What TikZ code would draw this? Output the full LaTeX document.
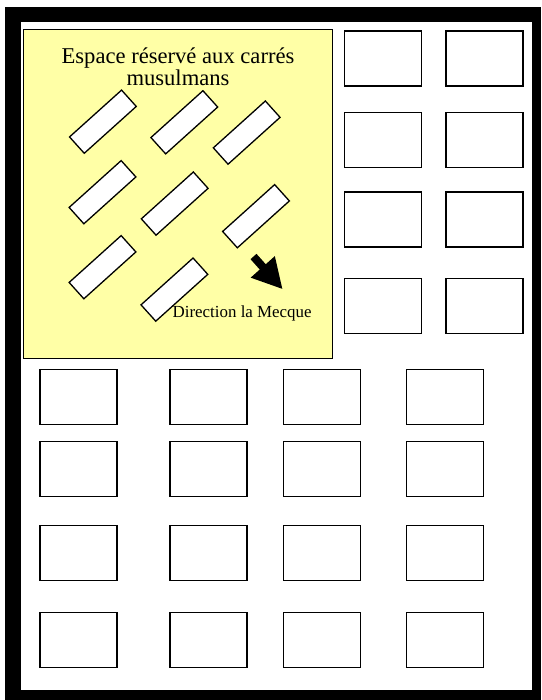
\documentclass[tikz,border=0pt]{standalone}
\usepackage{fontspec}
\setmainfont{Liberation Serif}
\usetikzlibrary{arrows.meta}
\definecolor{jaune}{RGB}{255,255,166}

\begin{document}
\begin{tikzpicture}[x=1pt, y=-1pt,
  every node/.style={inner sep=0pt},
  tombe/.style={rectangle, draw, fill=white, line width=1.3pt, minimum width=77pt, minimum height=55pt},
  tombemus/.style={rectangle, draw, fill=white, line width=1.3pt, minimum width=70pt, minimum height=22pt, rotate=42}]
\useasboundingbox (0,0) rectangle (541,700);
% mur d'enceinte
\fill[black] (5,7) rectangle (541,700);
\fill[white] (21,22) rectangle (532,690);
% espace reserve
\draw[fill=jaune, line width=1pt] (23.5,29.5) rectangle (332.5,358.5);
\node[font=\fontsize{22.6}{22.5}\selectfont, align=center, anchor=north] (titre) at (178,47.5)
  {Espace réservé aux carrés\\musulmans};
\node[tombemus] (m1) at (102.9,121.7) {};
\node[tombemus] (m2) at (184.3,122.3) {};
\node[tombemus] (m3) at (246.7,132.6) {};
\node[tombemus] (m4) at (102.5,192.2) {};
\node[tombemus] (m5) at (174.7,203.6) {};
\node[tombemus] (m6) at (256.0,216.2) {};
\node[tombemus] (m7) at (102.5,267.2) {};
\node[tombemus] (m8) at (174.4,289.6) {};
\coordinate (fl-a) at (253.5,256.5);
\coordinate (fl-b) at (282.7,289.3);
\draw[line width=8pt, -{Triangle[length=30pt, width=30pt]}] (fl-a) -- (fl-b);
\node[font=\fontsize{16.9}{18}\selectfont, anchor=base west] (mecque) at (172.5,317) {Direction la Mecque};
% tombes a droite
\foreach \j/\y in {1/58.5, 2/140, 3/219.5, 4/306}
  \foreach \i/\x in {1/383.3, 2/484.5}
    \node[tombe] (d-\i-\j) at (\x,\y) {};
% tombes en bas
\foreach \j/\y in {1/397.3, 2/469, 3/553.3, 4/640}
  \foreach \i/\x in {1/78.5, 2/208.5, 3/322, 4/445}
    \node[tombe] (b-\i-\j) at (\x,\y) {};
\end{tikzpicture}
\end{document}
